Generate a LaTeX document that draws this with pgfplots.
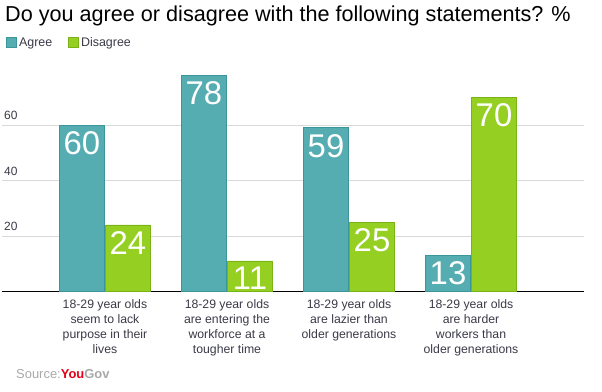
\documentclass[border=0pt]{standalone}
\usepackage{pgfplots}
\pgfplotsset{compat=1.18}
\usepackage{fontspec}
\setmainfont{Liberation Sans}
\definecolor{agree}{HTML}{55ACB1}
\definecolor{agreedark}{HTML}{3A969B}
\definecolor{disagree}{HTML}{95CF22}
\definecolor{disagreedark}{HTML}{7AB318}
\definecolor{txt}{HTML}{3A3A48}
\definecolor{gridc}{HTML}{D9D9D9}
\definecolor{ygred}{HTML}{E2001A}
\definecolor{yggrey}{HTML}{A8A8A8}
\begin{document}
\begin{tikzpicture}
\path[use as bounding box] (0,0) rectangle (602bp,-392bp);
\begin{axis}[
  at={(2bp,-291.5bp)}, anchor=south west,
  scale only axis, width=582bp, height=222bp,
  ybar=1bp, bar width=45bp,
  xmin=-0.844, xmax=3.926, ymin=0, ymax=80,
  enlargelimits=false,
  axis x line*=bottom, axis y line*=left,
  y axis line style={draw=none},
  x axis line style={black, line width=1.3bp, -},
  major tick length=0pt,
  ytick={20,40,60},
  ymajorgrids, grid style={gridc, line width=0.9bp},
  xtick={0,1,2,3},
  xticklabels={{18-29 year olds\\seem to lack\\purpose in their\\lives},
               {18-29 year olds\\are entering the\\workforce at a\\tougher time},
               {18-29 year olds\\are lazier than\\older generations},
               {18-29 year olds\\are harder\\workers than\\older generations}},
  xticklabel style={align=center, anchor=north, inner sep=0pt, yshift=-8bp, text=txt,
    font=\fontsize{12.3}{15}\selectfont},
  yticklabel style={anchor=south west, inner sep=0pt, xshift=2bp, yshift=5bp, text=txt,
    font=\fontsize{12}{12}\selectfont},
  /pgf/number format/assume math mode=true,
  nodes near coords,
  nodes near coords style={anchor=north, white, inner sep=0pt, yshift=-6bp,
    font=\fontsize{33}{33}\selectfont},
  legend style={at={(axis description cs:0.007,1.155)}, anchor=north west, draw=none, fill=none,
    legend columns=2, inner sep=0pt, font=\fontsize{12.5}{12.5}\selectfont, text=txt,
    /tikz/every even column/.append style={column sep=14bp}},
  legend image code/.code={\path[#1] (0bp,-5bp) rectangle (10bp,5bp);},
]
\addplot[fill=agree, draw=agreedark, line width=0.8bp] coordinates {(0,60) (1,78) (2,59) (3,13)};
\addplot[fill=disagree, draw=disagreedark, line width=0.8bp] coordinates {(0,24) (1,11) (2,25) (3,70)};
\legend{Agree, Disagree}
\end{axis}
\node[anchor=base west, inner sep=0pt, font=\fontsize{21.7}{21.7}\selectfont] at (5bp,-21bp)
  {Do you agree or disagree with the following statements? \%};
\node[anchor=base west, inner sep=0pt] at (16bp,-378bp)
  {\fontsize{13}{13}\selectfont\color{yggrey}Source:\textbf{\color{ygred}You\color{yggrey}Gov}};
\end{tikzpicture}
\end{document}
